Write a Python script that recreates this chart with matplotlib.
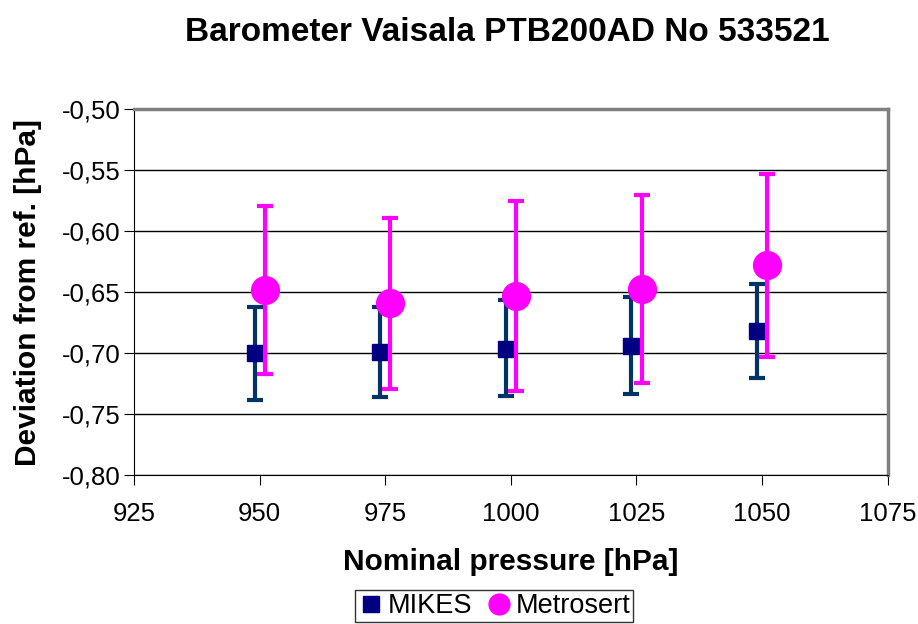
import matplotlib.pyplot as plt
from matplotlib.lines import Line2D
from matplotlib.ticker import FuncFormatter, MultipleLocator

plt.rcParams['font.family'] = ['Liberation Sans', 'DejaVu Sans']

# MIKES results (plotted slightly left of nominal)
mikes_p = [949, 974, 999, 1024, 1049]
mikes_dev = [-0.700, -0.699, -0.696, -0.694, -0.682]
mikes_lo = [-0.738, -0.736, -0.735, -0.733, -0.720]
mikes_hi = [-0.662, -0.662, -0.656, -0.654, -0.643]

# Metrosert results (plotted slightly right of nominal)
metro_p = [951, 976, 1001, 1026, 1051]
metro_dev = [-0.648, -0.659, -0.653, -0.647, -0.628]
metro_lo = [-0.717, -0.729, -0.731, -0.724, -0.703]
metro_hi = [-0.579, -0.589, -0.575, -0.570, -0.553]

fig = plt.figure(figsize=(9.18, 6.24), dpi=100)
ax = fig.add_axes([0.146, 0.238, 0.821, 0.587])

err_m = [[d - l for d, l in zip(mikes_dev, mikes_lo)],
         [h - d for d, h in zip(mikes_dev, mikes_hi)]]
err_s = [[d - l for d, l in zip(metro_dev, metro_lo)],
         [h - d for d, h in zip(metro_dev, metro_hi)]]

ax.errorbar(mikes_p, mikes_dev, yerr=err_m, fmt='s', color='#000080',
            ecolor='#003366', elinewidth=3, capsize=6, capthick=3,
            markersize=12, zorder=3)
ax.errorbar(metro_p, metro_dev, yerr=err_s, fmt='o', color='#FF00FF',
            ecolor='#FF00FF', elinewidth=3, capsize=6, capthick=3,
            markersize=20, zorder=4)

ax.set_xlim(925, 1075)
ax.set_ylim(-0.80, -0.50)
ax.xaxis.set_major_locator(MultipleLocator(25))
ax.yaxis.set_major_locator(MultipleLocator(0.05))
ax.yaxis.set_major_formatter(FuncFormatter(lambda v, p: f'{v:.2f}'.replace('.', ',')))
ax.grid(axis='y', color='black', linewidth=1)
ax.set_axisbelow(True)

for s in ['top', 'right']:
    ax.spines[s].set_color('#808080')
    ax.spines[s].set_linewidth(2.5)
ax.spines['left'].set_color('black')
ax.spines['bottom'].set_color('black')
ax.tick_params(axis='both', labelsize=18.5, direction='out', length=7, color='black')
ax.tick_params(axis='x', pad=12)
ax.tick_params(axis='y', pad=3)

ax.set_xlabel('Nominal pressure [hPa]', fontsize=21.5, fontweight='bold')
ax.set_ylabel('Deviation from ref. [hPa]', fontsize=21.5, fontweight='bold')
ax.xaxis.set_label_coords(0.5, -0.237)
ax.yaxis.set_label_coords(-0.141, 0.5)
ax.xaxis.label.set_va('center')
ax.yaxis.label.set_va('center')
fig.text(0.553, 0.948, 'Barometer Vaisala PTB200AD No 533521', fontsize=24,
         fontweight='bold', ha='center', va='center')

handles = [Line2D([], [], marker='s', color='#000080', linestyle='none', markersize=12),
           Line2D([], [], marker='o', color='#FF00FF', linestyle='none', markersize=15)]
fig.legend(handles, ['MIKES', 'Metrosert'], loc='upper center', bbox_to_anchor=(0.538, 0.054),
           ncol=2, fontsize=19.5, frameon=True, fancybox=False, edgecolor='black',
           handletextpad=0.1, columnspacing=0.5, borderpad=0.1, handlelength=1.0,
           borderaxespad=0)

fig.savefig('out.png', dpi=100)
